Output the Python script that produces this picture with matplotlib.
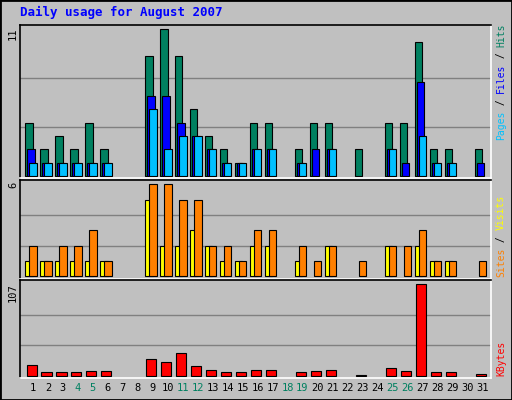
import matplotlib
matplotlib.use('Agg')
import matplotlib.pyplot as plt
import numpy as np

days = np.arange(1, 32)
hits = [4, 2, 3, 2, 4, 2, 0, 0, 9, 11, 9, 5, 3, 2, 1, 4, 4, 0, 2, 4, 4, 0, 2, 0, 4, 4, 10, 2, 2, 0, 2]
files = [2, 1, 1, 1, 1, 1, 0, 0, 6, 6, 4, 3, 2, 1, 1, 2, 2, 0, 1, 2, 2, 0, 0, 0, 2, 1, 7, 1, 1, 0, 1]
pages = [1, 1, 1, 1, 1, 1, 0, 0, 5, 2, 3, 3, 2, 1, 1, 2, 2, 0, 1, 0, 2, 0, 0, 0, 2, 0, 3, 1, 1, 0, 0]
visits = [2, 1, 2, 2, 3, 1, 0, 0, 6, 6, 5, 5, 2, 2, 1, 3, 3, 0, 2, 1, 2, 0, 1, 0, 2, 2, 3, 1, 1, 0, 1]
sites = [1, 1, 1, 1, 1, 1, 0, 0, 5, 2, 2, 3, 2, 1, 1, 2, 2, 0, 1, 0, 2, 0, 0, 0, 2, 0, 2, 1, 1, 0, 0]
kbytes = [12, 4, 4, 4, 5, 5, 0, 0, 19, 16, 26, 11, 7, 4, 4, 7, 7, 0, 4, 5, 7, 0, 1, 0, 9, 5, 107, 4, 4, 0, 2]
weekends = [4, 5, 11, 12, 18, 19, 25, 26]

BG = '#C0C0C0'
W, H = 512, 400

fig = plt.figure(figsize=(5.12, 4.0), dpi=100, facecolor=BG)
fig.patches.append(plt.Rectangle((0, 0), 1, 1, transform=fig.transFigure,
                                 fill=False, edgecolor='black', lw=2))


def add_panel(top, bottom, ylim):
    ax = fig.add_axes([20 / W, 1 - bottom / H, 471 / W, (bottom - top) / H])
    ax.set_facecolor(BG)
    ax.set_xlim(0.13, 31.58)
    ax.set_ylim(*ylim)
    ax.set_xticks([])
    ax.set_yticks([])
    for s in ['top', 'left']:
        ax.spines[s].set_color('black')
    for s in ['bottom', 'right']:
        ax.spines[s].set_color('white')
    for s in ax.spines.values():
        s.set_linewidth(1.2)
    return ax


def grid(ax, vals):
    for v in vals:
        ax.axhline(v, color='#808080', lw=1, zorder=0)


def bars(ax, offset, vals, color, width=0.5):
    # skip empty days so no flat outline is drawn
    vals = np.asarray(vals)
    keep = vals > 0
    ax.bar(days[keep] + offset, vals[keep], width=width, color=color,
           edgecolor='black', linewidth=0.8, zorder=2)


ax1 = add_panel(25, 178, (-0.15, 11.3))
grid(ax1, [11 / 3, 22 / 3])
bars(ax1, -0.27, hits, '#008060')
bars(ax1, -0.13, files, '#0000FF')
bars(ax1, 0, pages, '#00C0FF')

ax2 = add_panel(180, 279, (-0.18, 6.28))
grid(ax2, [2, 4])
bars(ax2, -0.27, sites, '#FFFF00')
bars(ax2, 0, visits, '#FF8000')

ax3 = add_panel(280, 378, (-2.7, 111.7))
grid(ax3, [107 / 3, 214 / 3])
bars(ax3, -0.1, kbytes, '#FF0000', width=0.67)

mono = 'DejaVu Sans Mono'

fig.text(20 / W, 1 - 12 / H, 'Daily usage for August 2007', color='#0000FF',
         family=mono, weight='bold', fontsize=9, va='center', ha='left')

for d in days:
    x = (33 + (d - 1) * 14.97) / W
    fig.text(x, 1 - 388 / H, str(d), family=mono, fontsize=7.5, ha='center',
             va='center', color='#008060' if d in weekends else 'black')

for lab, top in [('11', 27), ('6', 182), ('107', 283)]:
    fig.text(13 / W, 1 - top / H, lab, family=mono, fontsize=7.5, rotation=90,
             ha='center', va='top')


def side_label(pieces, bottom):
    y = bottom
    for txt, col in pieces:
        fig.text(501 / W, 1 - y / H, txt, family=mono, fontsize=7, rotation=90,
                 ha='center', va='bottom', color=col)
        y -= len(txt) * 5.84


side_label([('Pages', '#00C0FF'), (' / ', 'black'), ('Files', '#0000FF'),
            (' / ', 'black'), ('Hits', '#008060')], 140)
side_label([('Sites', '#FF8000'), (' / ', 'black'), ('Visits', '#FFFF00')], 277)
side_label([('KBytes', '#FF0000')], 376)

fig.savefig('out.png', dpi=100, facecolor=BG)
